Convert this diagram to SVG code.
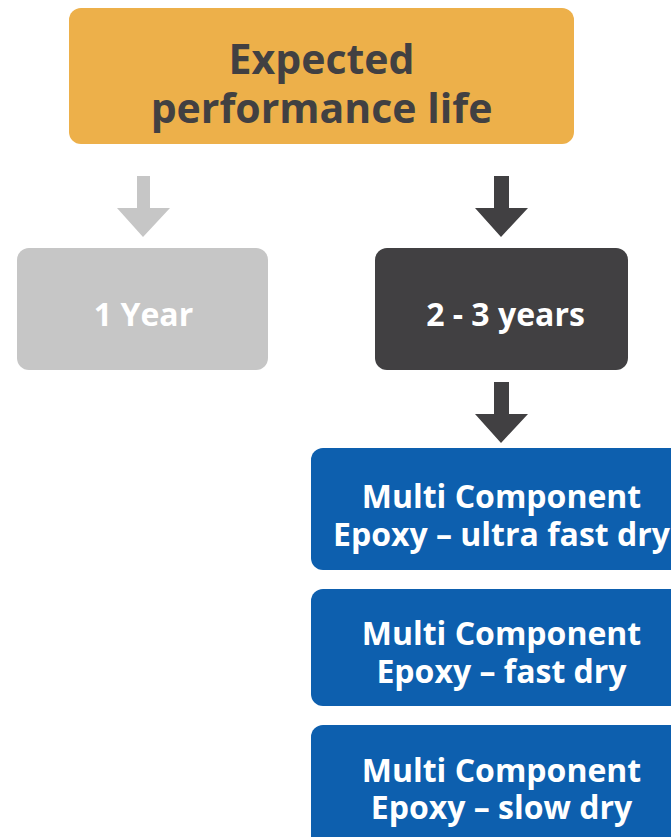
<svg xmlns="http://www.w3.org/2000/svg" width="671" height="837" viewBox="0 0 671 837">
<style>
text{font-family:"Open Sans","Liberation Sans",sans-serif;font-weight:700;text-anchor:middle}
.t{font-size:41px;fill:#414042}
.w{font-size:32px;fill:#ffffff}
.blue{fill:#0d5fae}
</style>
<rect width="671" height="837" fill="#ffffff"/>
<g id="connectors">
<polygon points="137,176 150,176 150,208 170,208 143,237 117,208 137,208" fill="#c6c6c6"/>
<polygon points="494,176 509,176 509,208 528,208 501,237 475,208 494,208" fill="#414042"/>
<polygon points="494,382 509,382 509,414 528,414 501,443 475,414 494,414" fill="#414042"/>
</g>
<g id="title">
<rect x="69" y="8" width="505" height="136" rx="12" fill="#edb04a"/>
<text class="t" x="321.5" y="74">Expected</text>
<text class="t" x="321.5" y="123">performance life</text>
</g>
<g id="one-year">
<rect x="17" y="248" width="251" height="122" rx="12" fill="#c6c6c6"/>
<text class="w" x="143.5" y="326">1 Year</text>
</g>
<g id="two-three-years">
<rect x="375" y="248" width="253" height="122" rx="12" fill="#414042"/>
<text class="w" x="505.5" y="326">2 - 3 years</text>
</g>
<g id="ultra-fast">
<rect class="blue" x="311" y="448" width="380" height="122" rx="12"/>
<text class="w" x="501.5" y="508">Multi Component</text>
<text class="w" x="501.5" y="546">Epoxy – ultra fast dry</text>
</g>
<g id="fast">
<rect class="blue" x="311" y="589" width="380" height="117" rx="12"/>
<text class="w" x="501.5" y="645">Multi Component</text>
<text class="w" x="501.5" y="683">Epoxy – fast dry</text>
</g>
<g id="slow">
<rect class="blue" x="311" y="725" width="380" height="130" rx="12"/>
<text class="w" x="501.5" y="782">Multi Component</text>
<text class="w" x="501.5" y="819">Epoxy – slow dry</text>
</g>
</svg>
